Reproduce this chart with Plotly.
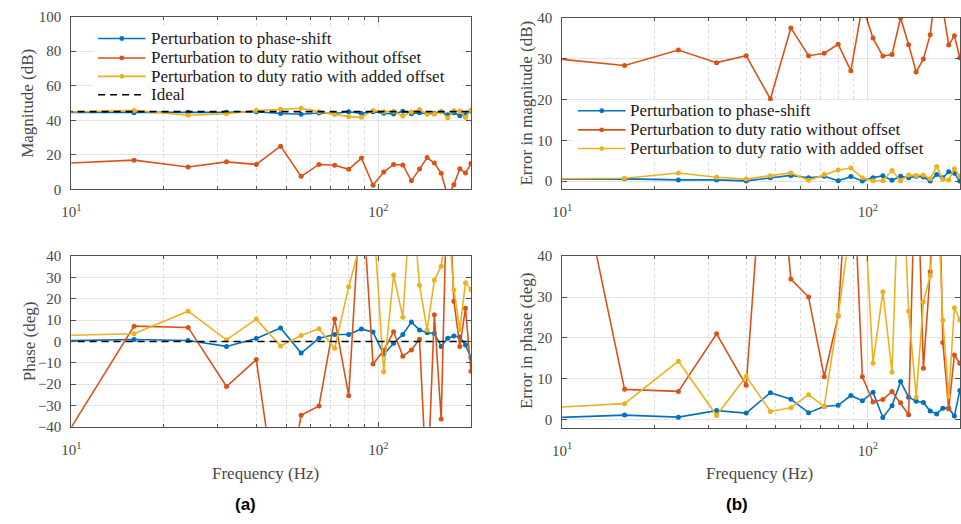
import math
import plotly.graph_objects as go

W, H = 961, 524

# Excitation frequencies (Hz)
freq = [8, 16, 24, 32, 40, 48, 56, 64, 72, 80, 88, 96, 104, 112, 120, 128,
        136, 144, 152, 160, 168, 176, 184, 192, 200]

# Measured magnitude (dB)
mag_ps = [44.6, 44.4, 44.6, 44.6, 44.9, 43.9, 43.5, 44.2, 43.9, 44.9, 43.9, 45.0, 44.1,
          43.7, 45.2, 43.8, 44.3, 43.8, 43.9, 45.0, 43.2, 44.4, 42.6, 43.2, 45.3]
mag_dr = [14.4, 16.9, 12.9, 15.9, 14.4, 25.0, 7.5, 14.4, 13.9, 11.6, 18.1, 2.3, 10.0,
          14.4, 14.1, 4.9, 11.7, 18.4, 15.2, 9.3, -4.0, 2.7, 11.9, 9.4, 14.9]
mag_dr_off = [44.4, 45.7, 42.9, 43.8, 45.6, 46.4, 47.0, 45.0, 43.4, 42.1, 41.7, 45.7, 45.0,
              45.2, 42.5, 44.8, 46.2, 43.5, 43.5, 45.0, 41.3, 45.5, 45.4, 41.6, 46.0]

# Measured phase (deg)
ph_ps = [0.2, 0.9, 0.45, -2.3, 1.4, 6.3, -5.4, 1.5, 3.3, 3.3, 5.9, 4.4, -6.0,
         -0.8, 3.3, 9.1, 5.4, 4.1, 3.8, -2.3, 1.5, 2.6, 2.1, -1.7, -7.5]
ph_dr = [-62.6, 7.2, 6.6, -21.1, -8.5, -88.0, -34.6, -30.2, 10.6, -25.4, 75.0, -10.6, -4.2,
         4.6, -6.9, -4.0, 1.1, -72.0, 12.5, -36.3, 85.0, 18.9, -2.4, 15.6, -14.0]
ph_dr_off = [2.6, 3.6, 14.2, 0.8, 10.5, -2.1, 2.8, 6.0, -3.2, 25.7, 48.0, 61.0, -14.2,
             31.2, 11.4, 72.0, 26.4, 5.4, 28.7, 35.3, 60.0, 24.2, 5.6, 27.5, 24.4]

# Error in magnitude (dB)
emag_ps = [0.4, 0.55, 0.3, 0.3, 0.05, 0.8, 1.4, 0.8, 1.2, 0.1, 1.1, 0.05, 0.85,
           1.3, 0.2, 1.2, 0.8, 1.2, 1.0, 0.05, 1.6, 0.8, 2.3, 1.9, 0.05]
emag_dr = [30.5, 28.3, 32.1, 29.0, 30.7, 20.1, 37.5, 30.7, 31.3, 33.5, 27.0, 43.0, 35.0,
           30.6, 31.0, 40.0, 33.4, 26.7, 29.9, 35.8, 49.0, 42.3, 33.3, 35.6, 30.2]
emag_dr_off = [0.5, 0.7, 2.0, 0.95, 0.5, 1.3, 2.0, 0.2, 1.6, 2.7, 3.2, 0.8, 0.1,
               0.1, 2.6, 0.05, 1.5, 1.4, 1.5, 0.55, 3.6, 0.4, 0.3, 3.0, 1.2]

# Error in phase (deg)
eph_ps = [0.3, 1.1, 0.6, 2.2, 1.6, 6.6, 5.0, 1.7, 3.2, 3.5, 5.9, 4.6, 6.7,
          0.5, 3.4, 9.3, 5.5, 4.5, 4.2, 2.1, 1.4, 2.8, 2.8, 0.9, 7.1]
eph_dr = [115.0, 7.4, 6.9, 21.0, 8.4, 90.0, 34.4, 30.0, 10.5, 25.4, 75.0, 10.5, 4.3,
          4.9, 6.9, 4.1, 1.2, 72.0, 12.6, 36.2, 85.0, 18.9, 2.6, 15.8, 13.8]
eph_dr_off = [2.7, 3.9, 14.3, 1.0, 10.6, 2.0, 2.9, 6.1, 3.2, 25.6, 48.0, 61.0, 13.8,
              31.3, 11.6, 72.0, 26.5, 5.5, 28.8, 35.2, 60.0, 24.3, 5.7, 27.4, 24.4]

ideal_mag = 45.0
ideal_phase = 0.0

names = ["Perturbation to phase-shift",
         "Perturbation to duty ratio without offset",
         "Perturbation to duty ratio with added offset"]
ideal_name = "Ideal"

BLUE, RED, YELLOW = "#0072BD", "#D95319", "#EDB120"
colors = [BLUE, RED, YELLOW]

SERIF = "Liberation Serif"
AX_COL = "#505050"
TXT_COL = "#474747"
GRID_COL = "#e3e3e3"
MINOR_COL = "#dadada"
DASH = "7px,5px"


def px(x):
    return x / W


def py(y):
    return 1 - y / H


fig = go.Figure()

panels = [
    ("x", "y", [mag_ps, mag_dr, mag_dr_off], ideal_mag),
    ("x2", "y2", [ph_ps, ph_dr, ph_dr_off], ideal_phase),
    ("x3", "y3", [emag_ps, emag_dr, emag_dr_off], None),
    ("x4", "y4", [eph_ps, eph_dr, eph_dr_off], None),
]

for xa, ya, series, ideal in panels:
    for vals, col, name in zip(series, colors, names):
        fig.add_trace(go.Scatter(
            x=freq, y=vals, name=name, xaxis=xa, yaxis=ya,
            mode="lines+markers", showlegend=False,
            line=dict(color=col, width=1.6),
            marker=dict(color=col, size=5),
        ))
    if ideal is not None:
        fig.add_trace(go.Scatter(
            x=[freq[0], freq[-1]], y=[ideal, ideal], name=ideal_name,
            xaxis=xa, yaxis=ya, mode="lines", showlegend=False,
            line=dict(color="black", width=1.6, dash=DASH),
        ))

x_minor = [20, 30, 40, 50, 60, 70, 80, 90, 200]


def xaxis(domain, anchor):
    return dict(
        type="log", range=[1, math.log10(200.3)], domain=domain, anchor=anchor,
        tickvals=[10, 100], ticktext=["10<sup>1</sup>", "10<sup>2</sup>"],
        ticks="inside", ticklen=5, tickcolor=AX_COL, tickwidth=1,
        showline=True, linecolor=AX_COL, linewidth=1, mirror="ticks",
        showgrid=True, gridcolor=GRID_COL, gridwidth=1, zeroline=False,
        minor=dict(tickvals=x_minor, ticks="inside", ticklen=3, tickcolor=AX_COL,
                   showgrid=True, gridcolor=MINOR_COL, griddash="dot", gridwidth=1),
        tickfont=dict(family=SERIF, size=15, color=TXT_COL),
        ticklabelstandoff=9,
    )


def yaxis(domain, anchor, rng, dtick, tick0):
    return dict(
        range=rng, domain=domain, anchor=anchor, dtick=dtick, tick0=tick0,
        ticks="inside", ticklen=5, tickcolor=AX_COL, tickwidth=1,
        showline=True, linecolor=AX_COL, linewidth=1, mirror="ticks",
        showgrid=True, gridcolor=GRID_COL, gridwidth=1, zeroline=False,
        tickfont=dict(family=SERIF, size=15, color=TXT_COL),
        ticklabelstandoff=6,
    )


xl = [px(62), px(466)]
xr = [px(558), px(960)]
yt = [py(187), py(9)]
ytr = [py(187), py(10)]
yb = [py(432), py(256)]
ybr = [py(433), py(256)]

fig.update_layout(
    xaxis=xaxis(xl, "y"), yaxis=yaxis(yt, "x", [0, 100], 20, 0),
    xaxis2=xaxis(xl, "y2"), yaxis2=yaxis(yb, "x2", [-40, 40], 10, 0),
    xaxis3=xaxis(xr, "y3"), yaxis3=yaxis(ytr, "x3", [-2, 40], 10, 0),
    xaxis4=xaxis(xr, "y4"), yaxis4=yaxis(ybr, "x4", [-2, 40], 10, 0),
)

shapes = []
annotations = []


def legend_block(entries, box, x0, x1, xt, rows):
    bx0, by0, bx1, by1 = box
    shapes.append(dict(type="rect", xref="paper", yref="paper",
                       x0=px(bx0), x1=px(bx1), y0=py(by1), y1=py(by0),
                       fillcolor="white", line=dict(width=0), layer="above"))
    for (label, col, dashed), yrow in zip(entries, rows):
        shapes.append(dict(type="line", xref="paper", yref="paper",
                           x0=px(x0), x1=px(x1), y0=py(yrow), y1=py(yrow),
                           line=dict(color=col, width=1.6, dash=DASH if dashed else "solid"),
                           layer="above"))
        if not dashed:
            xm = (x0 + x1) / 2
            shapes.append(dict(type="circle", xref="paper", yref="paper",
                               x0=px(xm - 2.5), x1=px(xm + 2.5),
                               y0=py(yrow + 2.5), y1=py(yrow - 2.5),
                               fillcolor=col, line=dict(color=col, width=0), layer="above"))
        annotations.append(dict(text=label, xref="paper", yref="paper",
                                x=px(xt), y=py(yrow), xanchor="left", yanchor="middle",
                                showarrow=False,
                                font=dict(family=SERIF, size=17, color="#1a1a1a")))


legend_block(
    [(names[0], BLUE, False), (names[1], RED, False), (names[2], YELLOW, False),
     (ideal_name, "black", True)],
    (84, 20, 456, 99), 89, 137, 140, [31.5, 51.5, 70.5, 89.5])

legend_block(
    [(names[0], BLUE, False), (names[1], RED, False), (names[2], YELLOW, False)],
    (568, 96, 952, 156), 574, 622, 625, [106, 125.7, 145])

# axis titles
for text, x, y in [("Magnitude (dB)", 17, 98), ("Phase (deg)", 20, 344),
                   ("Error in magnitude (dB)", 521, 98), ("Error in phase (deg)", 522, 344)]:
    annotations.append(dict(text=text, xref="paper", yref="paper", x=px(x), y=py(y),
                            xanchor="center", yanchor="middle", textangle=-90,
                            showarrow=False, font=dict(family=SERIF, size=17, color=TXT_COL)))

for x in [258, 757]:
    annotations.append(dict(text="Frequency (Hz)", xref="paper", yref="paper",
                            x=px(x), y=py(480), xanchor="center", yanchor="middle",
                            showarrow=False, font=dict(family=SERIF, size=17, color=TXT_COL)))

for text, x in [("(a)", 238), ("(b)", 735)]:
    annotations.append(dict(text="<b>" + text + "</b>", xref="paper", yref="paper",
                            x=px(x), y=py(512), xanchor="center", yanchor="middle",
                            showarrow=False,
                            font=dict(family="Liberation Sans", size=17, color="black")))

fig.update_layout(
    width=W, height=H, margin=dict(l=0, r=0, t=0, b=0),
    paper_bgcolor="white", plot_bgcolor="white",
    showlegend=False, shapes=shapes, annotations=annotations,
)

fig.write_html("out.html")
